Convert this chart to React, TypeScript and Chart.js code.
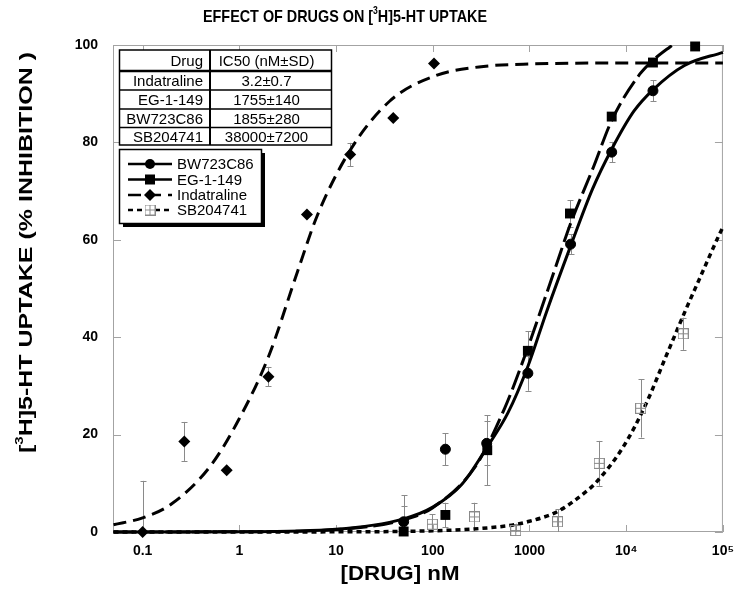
import { useEffect, useRef } from 'react';
import { Chart, registerables } from 'chart.js';

Chart.register(...registerables);

// ---------- axis ticks ----------
const X_TICKS = [0.1, 1, 10, 100, 1000, 10000, 100000];
const X_TICK_LABELS = ['0.1', '1', '10', '100', '1000', '10⁴', '10⁵'];
const Y_TICKS = [0, 20, 40, 60, 80, 100];

// ---------- measured points (x nM, y % inhibition, ±SD) ----------
const BW_X = [50, 135, 361, 962, 2660, 7080, 18900];
const BW_Y = [2.1, 17.0, 18.2, 32.6, 59.1, 78.0, 90.6];
const BW_ERR = [5.5, 3.3, 4.5, 3.6, 2, 2.1, 2.2];

const EG_X = [50, 135, 366, 962, 2620, 7080, 18900, 51600];
const EG_Y = [0.1, 3.5, 16.8, 37.2, 65.4, 85.3, 96.4, 99.7];
const EG_ERR = [5.3, 2.5, 7.2, 4, 2.7, 0, 0, 0];

const IND_X = [0.1, 0.27, 0.74, 2, 5, 14, 39, 103];
const IND_Y = [0, 18.6, 12.7, 31.9, 65.2, 77.5, 85, 96.2];
const IND_ERR = [10.5, 4, 0, 2, 0, 2.4, 0, 0];

const SB_X = [99, 270, 720, 1950, 5250, 14100, 38800];
const SB_Y = [1.6, 3.1, 0.3, 2.1, 14.1, 25.4, 40.7];
const SB_ERR = [2, 2.9, 1.4, 2.6, 4.6, 6, 3.3];

// ---------- fitted curves ----------
const BW_FIT_X = [0.05, 1, 10, 50, 100, 200, 361, 600, 962, 1500, 2660, 4500, 7080, 12000, 18900, 40000, 100000];
const BW_FIT_Y = [0, 0.05, 0.55, 2.7, 5.1, 9.8, 17.3, 24.5, 34, 45.2, 58.7, 70.5, 78.6, 86.4, 90.8, 95.8, 98.5];

const EG_FIT_X = [0.05, 1, 10, 50, 100, 275, 556, 889, 1870, 2620, 4600, 7080, 13800, 19300, 27900, 50000, 100000];
const EG_FIT_Y = [0, 0.05, 0.5, 2.5, 5, 13.4, 25.5, 36, 54.5, 63, 75, 84.5, 94, 97, 99.5, 103, 106];

const IND_FIT_X = [0.05, 0.1, 0.2, 0.5, 1, 2, 4, 6.4, 14, 36, 107, 300, 1000, 10000, 100000];
const IND_FIT_Y = [1.5, 2.9, 5.8, 13.5, 23.3, 36, 53.5, 65, 78.4, 88.5, 93.7, 95.5, 96.1, 96.3, 96.3];

const SB_FIT_X = [0.05, 10, 100, 300, 703, 1000, 1950, 3900, 4790, 9330, 16100, 25700, 41200, 56400, 90400, 100000];
const SB_FIT_Y = [0, 0.03, 0.25, 0.7, 1.5, 2.2, 4.2, 8.4, 10, 17.5, 26.4, 36, 45.6, 51.7, 60.8, 62.6];

// ---------- table / legend text ----------
const TABLE_HEAD = ['Drug', 'IC50 (nM±SD)'];
const TABLE_DRUGS = ['Indatraline', 'EG-1-149', 'BW723C86', 'SB204741'];
const TABLE_IC50 = ['3.2±0.7', '1755±140', '1855±280', '38000±7200'];
const LEGEND_NAMES = ['BW723C86', 'EG-1-149', 'Indatraline', 'SB204741'];

const FONT = '"Liberation Sans", Arial, Helvetica, sans-serif';
const FRAME = '#a3a3a3';
const ERR_COLOR = '#8a8a8a';

const DASH_BW: number[] = [];
const DASH_EG = [20, 6];
const DASH_IND = [13, 7];
const DASH_SB = [5, 4];

type Part = { t: string; sup?: boolean };

function richWidth(ctx: CanvasRenderingContext2D, parts: Part[], fs: number, weight: string) {
  let w = 0;
  for (const p of parts) {
    ctx.font = `${weight} ${p.sup ? fs * 0.6 : fs}px ${FONT}`;
    w += ctx.measureText(p.t).width;
  }
  return w;
}

function drawRich(ctx: CanvasRenderingContext2D, parts: Part[], cx: number, baseline: number, targetW: number, fs: number, weight: string) {
  const w = richWidth(ctx, parts, fs, weight);
  const sx = targetW / w;
  ctx.save();
  ctx.translate(cx - targetW / 2, baseline);
  ctx.scale(sx, 1);
  ctx.textAlign = 'left';
  ctx.textBaseline = 'alphabetic';
  ctx.fillStyle = '#000';
  let x = 0;
  for (const p of parts) {
    ctx.font = `${weight} ${p.sup ? fs * 0.6 : fs}px ${FONT}`;
    ctx.fillText(p.t, x, p.sup ? -fs * 0.5 : 0);
    x += ctx.measureText(p.t).width;
  }
  ctx.restore();
}

function makeSbImage() {
  const c = document.createElement('canvas');
  c.width = 11;
  c.height = 11;
  const g = c.getContext('2d')!;
  g.strokeStyle = '#8a8a8a';
  g.lineWidth = 1;
  g.strokeRect(0.5, 0.5, 10, 10);
  g.beginPath();
  g.moveTo(5.5, 0.5);
  g.lineTo(5.5, 10.5);
  g.moveTo(0.5, 5.5);
  g.lineTo(10.5, 5.5);
  g.stroke();
  return c;
}

function drawMarker(ctx: CanvasRenderingContext2D, kind: string, x: number, y: number, sb: HTMLCanvasElement) {
  ctx.save();
  ctx.fillStyle = '#000';
  ctx.setLineDash([]);
  if (kind === 'circle') {
    ctx.beginPath();
    ctx.arc(x, y, 5, 0, Math.PI * 2);
    ctx.fill();
  } else if (kind === 'rect') {
    ctx.fillRect(x - 5, y - 5, 10, 10);
  } else if (kind === 'diamond') {
    ctx.beginPath();
    ctx.moveTo(x - 6, y);
    ctx.lineTo(x, y - 6);
    ctx.lineTo(x + 6, y);
    ctx.lineTo(x, y + 6);
    ctx.closePath();
    ctx.fill();
  } else {
    ctx.fillStyle = '#fff';
    ctx.fillRect(x - 5.5, y - 5.5, 11, 11);
    ctx.drawImage(sb, x - 5.5, y - 5.5);
  }
  ctx.restore();
}

const pts = (xs: number[], ys: number[]) => xs.map((x, i) => ({ x, y: ys[i] }));

export default function App() {
  const ref = useRef<HTMLCanvasElement | null>(null);

  useEffect(() => {
    const canvas = ref.current;
    if (!canvas) return;
    const sbImg = makeSbImage();

    const errSeries = [
      { xs: BW_X, ys: BW_Y, es: BW_ERR },
      { xs: EG_X, ys: EG_Y, es: EG_ERR },
      { xs: IND_X, ys: IND_Y, es: IND_ERR },
      { xs: SB_X, ys: SB_Y, es: SB_ERR },
    ];

    const decor = {
      id: 'decor',
      beforeDatasetsDraw(chart: any) {
        const { ctx, chartArea: a, scales } = chart;
        const xs = scales.x;
        const ys = scales.y;
        ctx.save();
        ctx.strokeStyle = FRAME;
        ctx.lineWidth = 1;
        ctx.strokeRect(a.left + 0.5, a.top + 0.5, a.right - a.left - 1, a.bottom - a.top - 1);
        ctx.beginPath();
        for (const v of X_TICKS) {
          const px = Math.round(xs.getPixelForValue(v)) + 0.5;
          ctx.moveTo(px, a.bottom);
          ctx.lineTo(px, a.bottom - 7);
          ctx.moveTo(px, a.top);
          ctx.lineTo(px, a.top + 7);
        }
        for (const v of Y_TICKS) {
          const py = Math.round(ys.getPixelForValue(v)) + 0.5;
          ctx.moveTo(a.left, py);
          ctx.lineTo(a.left + 8, py);
          ctx.moveTo(a.right, py);
          ctx.lineTo(a.right - 8, py);
        }
        ctx.stroke();

        // error bars
        ctx.beginPath();
        ctx.rect(a.left, a.top - 2, a.right - a.left, a.bottom - a.top + 2);
        ctx.clip();
        ctx.strokeStyle = ERR_COLOR;
        ctx.lineWidth = 1;
        ctx.beginPath();
        for (const s of errSeries) {
          s.xs.forEach((xv, i) => {
            const e = s.es[i];
            if (!e) return;
            const px = Math.round(xs.getPixelForValue(xv)) + 0.5;
            const y1 = ys.getPixelForValue(s.ys[i] + e);
            const y2 = ys.getPixelForValue(s.ys[i] - e);
            ctx.moveTo(px, y1);
            ctx.lineTo(px, y2);
            ctx.moveTo(px - 3, Math.round(y1) + 0.5);
            ctx.lineTo(px + 3, Math.round(y1) + 0.5);
            ctx.moveTo(px - 3, Math.round(y2) + 0.5);
            ctx.lineTo(px + 3, Math.round(y2) + 0.5);
          });
        }
        ctx.stroke();
        ctx.restore();
      },
      afterDraw(chart: any) {
        const ctx: CanvasRenderingContext2D = chart.ctx;
        ctx.save();
        // titles
        drawRich(ctx, [{ t: 'EFFECT OF DRUGS ON [' }, { t: '3', sup: true }, { t: 'H]5-HT UPTAKE' }], 345, 22, 284, 17, 'bold');
        drawRich(ctx, [{ t: '[DRUG] nM' }], 400, 580, 119, 21, 'bold');
        ctx.save();
        ctx.translate(32, 252.5);
        ctx.rotate(-Math.PI / 2);
        drawRich(ctx, [{ t: '[' }, { t: '3', sup: true }, { t: 'H]5-HT UPTAKE (% INHIBITION )' }], 0, 0, 401, 19, 'bold');
        ctx.restore();

        // table
        const tl = 119.5, tm = 210, tr = 331.5;
        const rows = [50, 71, 90, 109, 127.5, 145];
        ctx.fillStyle = '#fff';
        ctx.fillRect(tl, rows[0], tr - tl, rows[5] - rows[0]);
        ctx.strokeStyle = '#000';
        ctx.setLineDash([]);
        for (let i = 1; i < 5; i++) {
          ctx.lineWidth = i === 1 ? 2.5 : 1.3;
          ctx.beginPath();
          ctx.moveTo(tl, rows[i]);
          ctx.lineTo(tr, rows[i]);
          ctx.stroke();
        }
        ctx.lineWidth = 2;
        ctx.beginPath();
        ctx.moveTo(tm, rows[0]);
        ctx.lineTo(tm, rows[5]);
        ctx.stroke();
        ctx.lineWidth = 1.5;
        ctx.strokeRect(tl, rows[0], tr - tl, rows[5] - rows[0]);
        ctx.font = `15px ${FONT}`;
        ctx.fillStyle = '#000';
        ctx.textBaseline = 'alphabetic';
        const col1 = [TABLE_HEAD[0], ...TABLE_DRUGS];
        const col2 = [TABLE_HEAD[1], ...TABLE_IC50];
        for (let i = 0; i < 5; i++) {
          const base = (rows[i] + rows[i + 1]) / 2 + 5.4;
          ctx.textAlign = 'right';
          ctx.fillText(col1[i], 203, base);
          ctx.textAlign = 'center';
          ctx.fillText(col2[i], 266.5, base);
        }

        // legend box with drop shadow
        const lx = 119.5, ly = 149.5, lw = 142, lh = 74;
        ctx.fillStyle = '#000';
        ctx.fillRect(lx + 3.5, ly + 3.5, lw, lh);
        ctx.fillStyle = '#fff';
        ctx.fillRect(lx, ly, lw, lh);
        ctx.strokeStyle = '#000';
        ctx.lineWidth = 1.5;
        ctx.strokeRect(lx, ly, lw, lh);
        const kinds = ['circle', 'rect', 'diamond', 'sb'];
        const dashes = [DASH_BW, DASH_EG, DASH_IND, DASH_SB];
        const rowY = [164, 179.5, 195, 210];
        for (let i = 0; i < 4; i++) {
          const y = rowY[i];
          ctx.save();
          ctx.strokeStyle = '#000';
          ctx.lineWidth = 2.5;
          ctx.setLineDash(dashes[i]);
          ctx.beginPath();
          ctx.moveTo(128, y);
          ctx.lineTo(172, y);
          ctx.stroke();
          ctx.restore();
          drawMarker(ctx, kinds[i], 150, y, sbImg);
          ctx.font = `15px ${FONT}`;
          ctx.fillStyle = '#000';
          ctx.textAlign = 'left';
          ctx.fillText(LEGEND_NAMES[i], 177, y + 5.4);
        }
        ctx.restore();
      },
    };

    const curveClip = { left: 2, right: 2, top: 0, bottom: 6 };
    const pointSet = (label: string, data: any[], style: any, radius: number) => ({
      label,
      data,
      showLine: false,
      pointStyle: style,
      pointRadius: radius,
      pointHoverRadius: radius,
      pointBackgroundColor: '#000',
      pointBorderColor: '#000',
      pointBorderWidth: style === 'rect' || style === 'rectRot' ? 0 : 1,
      clip: false as const,
    });
    const curveSet = (label: string, data: any[], dash: number[], width: number) => ({
      label,
      data,
      showLine: true,
      pointRadius: 0,
      pointHoverRadius: 0,
      borderColor: '#000',
      borderWidth: width,
      borderDash: dash,
      cubicInterpolationMode: 'monotone' as const,
      fill: false,
      clip: curveClip,
    });

    const chart = new Chart(canvas, {
      type: 'scatter',
      data: {
        datasets: [
          pointSet(LEGEND_NAMES[0], pts(BW_X, BW_Y), 'circle', 5),
          pointSet(LEGEND_NAMES[1], pts(EG_X, EG_Y), 'rect', 7),
          pointSet(LEGEND_NAMES[2], pts(IND_X, IND_Y), 'rectRot', 6),
          pointSet(LEGEND_NAMES[3], pts(SB_X, SB_Y), sbImg, 5.5),
          curveSet('BW723C86 fit', pts(BW_FIT_X, BW_FIT_Y), DASH_BW, 3),
          curveSet('EG-1-149 fit', pts(EG_FIT_X, EG_FIT_Y), DASH_EG, 3),
          curveSet('Indatraline fit', pts(IND_FIT_X, IND_FIT_Y), DASH_IND, 3),
          curveSet('SB204741 fit', pts(SB_FIT_X, SB_FIT_Y), DASH_SB, 3.5),
        ] as any,
      },
      options: {
        animation: false,
        responsive: false,
        events: [],
        layout: { padding: { top: 45, right: 14, bottom: 0, left: 0 } },
        plugins: { legend: { display: false }, tooltip: { enabled: false }, title: { display: false } },
        scales: {
          x: {
            type: 'logarithmic',
            min: 0.0494,
            max: 100000,
            grid: { display: false, drawTicks: false },
            border: { display: false },
            afterBuildTicks: (s: any) => {
              s.ticks = X_TICKS.map((v) => ({ value: v }));
            },
            ticks: {
              autoSkip: false,
              maxRotation: 0,
              padding: 11,
              color: '#000',
              font: { family: FONT, size: 14, weight: 'bold' },
              callback: (_v: any, i: number) => X_TICK_LABELS[i],
            },
            afterFit: (s: any) => {
              s.height = 65;
            },
          },
          y: {
            type: 'linear',
            min: 0,
            max: 100,
            grid: { display: false, drawTicks: false },
            border: { display: false },
            afterBuildTicks: (s: any) => {
              s.ticks = Y_TICKS.map((v) => ({ value: v }));
            },
            ticks: {
              padding: 15,
              color: '#000',
              font: { family: FONT, size: 14, weight: 'bold' },
              callback: (v: any) => String(v),
            },
            afterFit: (s: any) => {
              s.width = 113;
            },
          },
        },
      } as any,
      plugins: [decor],
    });

    return () => chart.destroy();
  }, []);

  return (
    <div style={{ position: 'fixed', left: 0, top: 0, width: 745, height: 597, background: '#fff' }}>
      <canvas ref={ref} width={745} height={597} style={{ display: 'block' }} />
    </div>
  );
}
